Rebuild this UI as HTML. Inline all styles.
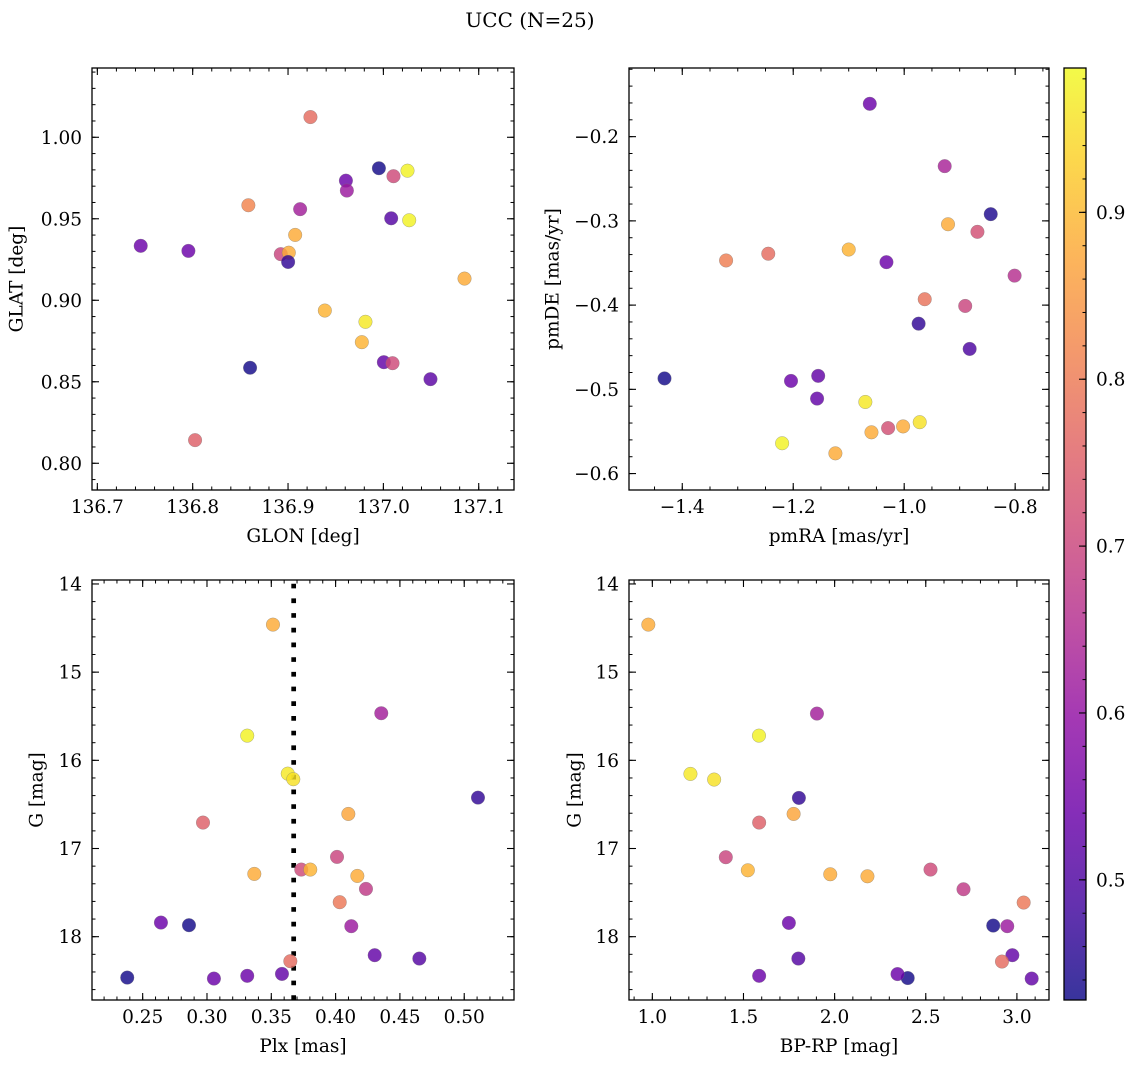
<!DOCTYPE html>
<html><head><meta charset="utf-8">
<style>
html,body{margin:0;padding:0;background:#fff;}
svg{display:block;font-family:"DejaVu Serif","Liberation Serif",serif;}
</style></head>
<body>
<svg id="fig" width="1136" height="1068" viewBox="0 0 1136 1068" xmlns="http://www.w3.org/2000/svg">
<defs>
<linearGradient id="plasmaGrad" x1="0" y1="1" x2="0" y2="0"></linearGradient>
</defs>
<text x="530" y="27" font-size="20" text-anchor="middle">UCC (N=25)</text>
</svg>
<script>
// ---- data: panel 1 (GLON/GLAT)
const glon = [136.9235,136.9953,137.0253,137.0106,136.9607,136.9617,136.8584,136.9127,137.0082,137.0271,136.7455,136.7955,136.9075,136.8924,136.9008,136.9001,137.0851,136.9386,136.9812,136.9774,137.0005,137.0096,136.8602,137.0494,136.8025];
const glat = [1.0124,0.9810,0.9795,0.9761,0.9734,0.9673,0.9583,0.9559,0.9503,0.9491,0.9334,0.9303,0.9401,0.9283,0.9292,0.9235,0.9133,0.8937,0.8868,0.8743,0.8620,0.8614,0.8586,0.8516,0.8142];
const cPos = [0.774,0.433,0.976,0.710,0.540,0.614,0.816,0.625,0.508,0.976,0.540,0.540,0.880,0.699,0.880,0.464,0.880,0.891,0.965,0.891,0.529,0.710,0.433,0.518,0.752];
// ---- data: panel 2 (pmRA/pmDE)
const pmra = [-1.062,-0.927,-0.844,-0.921,-0.868,-1.100,-1.245,-1.321,-1.032,-0.801,-0.963,-0.890,-0.974,-0.882,-1.432,-1.155,-1.204,-1.157,-1.070,-0.972,-1.002,-1.029,-1.059,-1.220,-1.124];
const pmde = [-0.161,-0.235,-0.292,-0.304,-0.313,-0.334,-0.339,-0.347,-0.349,-0.365,-0.393,-0.401,-0.422,-0.452,-0.487,-0.484,-0.490,-0.511,-0.515,-0.539,-0.544,-0.546,-0.551,-0.564,-0.576];
const cPm = [0.540,0.635,0.444,0.880,0.721,0.891,0.774,0.806,0.540,0.657,0.785,0.699,0.464,0.497,0.433,0.529,0.540,0.529,0.965,0.955,0.880,0.721,0.880,0.976,0.880];
// ---- data: panel 3 (Plx/G)
const plx = [0.3513,0.4355,0.3313,0.3628,0.3671,0.5107,0.4099,0.2969,0.4011,0.3733,0.3803,0.3368,0.4169,0.4236,0.4032,0.2642,0.2860,0.4122,0.4304,0.4651,0.3648,0.2380,0.3054,0.3313,0.3583];
const gPlx = [14.461,15.466,15.720,16.151,16.214,16.423,16.608,16.706,17.095,17.239,17.239,17.288,17.311,17.458,17.609,17.840,17.870,17.881,18.210,18.248,18.278,18.464,18.475,18.444,18.422];
const cPlx = [0.880,0.625,0.976,0.965,0.955,0.464,0.870,0.752,0.699,0.710,0.891,0.880,0.880,0.678,0.795,0.540,0.433,0.614,0.529,0.508,0.774,0.433,0.540,0.540,0.529];
const plxRef = [0.3674];
// ---- data: panel 4 (BP-RP/G)
const bprp = [0.978,1.903,1.585,1.209,1.339,1.804,1.775,1.586,1.403,1.524,1.976,2.180,2.526,2.707,3.037,1.749,2.870,2.947,2.975,1.801,2.918,2.401,1.586,2.345,3.081];
const gCmd = [14.461,15.470,15.720,16.154,16.218,16.426,16.608,16.706,17.099,17.247,17.292,17.315,17.239,17.462,17.613,17.844,17.874,17.881,18.210,18.248,18.282,18.469,18.444,18.424,18.475];
const cCmd = [0.880,0.625,0.976,0.965,0.955,0.464,0.870,0.752,0.699,0.891,0.880,0.880,0.710,0.678,0.795,0.540,0.433,0.614,0.529,0.508,0.774,0.433,0.540,0.540,0.529];
// ---- tick labels
const glonTicks = [136.7,136.8,136.9,137.0,137.1];
const glatTicks = [0.80,0.85,0.90,0.95,1.00];
const pmraTicks = [-1.4,-1.2,-1.0,-0.8];
const pmdeTicks = [-0.6,-0.5,-0.4,-0.3,-0.2];
const plxTicks = [0.25,0.30,0.35,0.40,0.45,0.50];
const gTicks = [14,15,16,17,18];
const bprpTicks = [1.0,1.5,2.0,2.5,3.0];
const cbarTicks = [0.5,0.6,0.7,0.8,0.9];
const cRange = [0.428,0.9865];

const NS="http://www.w3.org/2000/svg";
const svg=document.getElementById('fig');
const FS=18.5;
const plasma=['#0d0887','#41049d','#6a00a8','#8f0da4','#b12a90','#cc4778','#e16462','#f2844b','#fca636','#fcce25','#f0f921'];
function hex(h){return [parseInt(h.substr(1,2),16),parseInt(h.substr(3,2),16),parseInt(h.substr(5,2),16)];}
function cmap(v){
  let t=(v-cRange[0])/(cRange[1]-cRange[0]); t=Math.max(0,Math.min(1,t));
  const f=t*10, i=Math.min(9,Math.floor(f)), r=f-i;
  const a=hex(plasma[i]), b=hex(plasma[i+1]);
  return 'rgb('+a.map((x,k)=>Math.round(x+(b[k]-x)*r)).join(',')+')';
}
function el(tag,attrs,parent){const e=document.createElementNS(NS,tag);for(const k in attrs)e.setAttribute(k,attrs[k]);(parent||svg).appendChild(e);return e;}
function fmt(v,d){return (v<0?'\u2212':'')+Math.abs(v).toFixed(d);}

const panels=[
 {name:'position',x0:92,y0:68,w:422,h:422,xd:[136.6944,137.137],yd:[1.0425,0.7836],xs:glon,ys:glat,cs:cPos,xt:glonTicks,yt:glatTicks,xm:0.02,ym:0.01,xdec:1,ydec:2,xl:'GLON [deg]',yl:'GLAT [deg]',ylx:17},
 {name:'proper-motion',x0:629,y0:68,w:420,h:422,xd:[-1.496,-0.739],yd:[-0.1185,-0.6195],xs:pmra,ys:pmde,cs:cPm,xt:pmraTicks,yt:pmdeTicks,xm:0.05,ym:0.02,xdec:1,ydec:1,xl:'pmRA [mas/yr]',yl:'pmDE [mas/yr]',ylx:553},
 {name:'parallax-mag',x0:92,y0:580,w:422,h:420,xd:[0.2106,0.5387],yd:[13.955,18.718],xs:plx,ys:gPlx,cs:cPlx,xt:plxTicks,yt:gTicks,xm:0.01,ym:0.2,xdec:2,ydec:0,xl:'Plx [mas]',yl:'G [mag]',ylx:37,vline:plxRef},
 {name:'cmd',x0:629,y0:580,w:420,h:420,xd:[0.872,3.176],yd:[13.955,18.718],xs:bprp,ys:gCmd,cs:cCmd,xt:bprpTicks,yt:gTicks,xm:0.1,ym:0.2,xdec:1,ydec:0,xl:'BP-RP [mag]',yl:'G [mag]',ylx:575}
];

panels.forEach(p=>{
  const g=el('g',{});
  
  
  const X=v=>p.x0+(v-p.xd[0])/(p.xd[1]-p.xd[0])*p.w;
  const Y=v=>p.y0+(v-p.yd[0])/(p.yd[1]-p.yd[0])*p.h;
  const xmin=Math.min(...p.xd), xmax=Math.max(...p.xd), ymin=Math.min(...p.yd), ymax=Math.max(...p.yd);
  for(let v=Math.ceil(xmin/p.xm)*p.xm; v<=xmax; v+=p.xm){
    const x=X(v);
    el('line',{x1:x,x2:x,y1:p.y0+p.h,y2:p.y0+p.h-3.5,stroke:'#000','stroke-width':1},g);
    el('line',{x1:x,x2:x,y1:p.y0,y2:p.y0+3.5,stroke:'#000','stroke-width':1},g);
  }
  for(let v=Math.ceil(ymin/p.ym)*p.ym; v<=ymax; v+=p.ym){
    const y=Y(v);
    el('line',{x1:p.x0,x2:p.x0+3.5,y1:y,y2:y,stroke:'#000','stroke-width':1},g);
    el('line',{x1:p.x0+p.w,x2:p.x0+p.w-3.5,y1:y,y2:y,stroke:'#000','stroke-width':1},g);
  }
  p.xt.forEach(v=>{
    const x=X(v);
    el('line',{x1:x,x2:x,y1:p.y0+p.h,y2:p.y0+p.h-7,stroke:'#000','stroke-width':1.1},g);
    el('line',{x1:x,x2:x,y1:p.y0,y2:p.y0+7,stroke:'#000','stroke-width':1.1},g);
    const t=el('text',{x:x,y:p.y0+p.h+23,'font-size':FS,'text-anchor':'middle'},g);
    t.textContent=fmt(v,p.xdec);
    
    
  });
  p.yt.forEach(v=>{
    const y=Y(v);
    el('line',{x1:p.x0,x2:p.x0+7,y1:y,y2:y,stroke:'#000','stroke-width':1.1},g);
    el('line',{x1:p.x0+p.w,x2:p.x0+p.w-7,y1:y,y2:y,stroke:'#000','stroke-width':1.1},g);
    const t=el('text',{x:p.x0-10,y:y+6.5,'font-size':FS,'text-anchor':'end'},g);
    t.textContent=fmt(v,p.ydec);
    
    
  });
  if(p.vline){
    p.vline.forEach(v=>{
      const l=el('line',{x1:X(v),x2:X(v),y1:p.y0+p.h,y2:p.y0,stroke:'#000','stroke-width':4.7,'stroke-dasharray':'4.7 10'},g);
      
      
    });
  }
  p.xs.forEach((xv,i)=>{
    const c=el('circle',{cx:X(xv),cy:Y(p.ys[i]),r:6.8,fill:cmap(p.cs[i]),'fill-opacity':0.82,stroke:'#777','stroke-opacity':0.6,'stroke-width':0.5},g);
    
    
  });
  const fr=el('rect',{x:p.x0,y:p.y0,width:p.w,height:p.h,fill:'none',stroke:'#000','stroke-width':1.3},g);
  
  
  const xl=el('text',{x:p.x0+p.w/2,y:p.y0+p.h+52,'font-size':FS,'text-anchor':'middle'},g);
  xl.textContent=p.xl;
  
  
  const cy=p.y0+p.h/2;
  const yl=el('text',{x:p.ylx,y:cy,'font-size':FS,'text-anchor':'middle','dominant-baseline':'central',transform:'rotate(-90 '+p.ylx+' '+cy+')'},g);
  yl.textContent=p.yl;
  
  
});

// colorbar
const grad=document.getElementById('plasmaGrad');
plasma.forEach((c,i)=>{el('stop',{offset:(i*10)+'%','stop-color':c,'stop-opacity':0.82},grad);});
const cb={x:1064,y:68,w:22,h:932};
const cg=el('g',{});


el('rect',{x:cb.x,y:cb.y,width:cb.w,height:cb.h,fill:'url(#plasmaGrad)'},cg);
const CY=v=>cb.y+(cRange[1]-v)/(cRange[1]-cRange[0])*cb.h;
for(let v=Math.ceil(cRange[0]/0.02)*0.02; v<=cRange[1]; v+=0.02){
  el('line',{x1:cb.x+cb.w,x2:cb.x+cb.w-3.5,y1:CY(v),y2:CY(v),stroke:'#000','stroke-width':1},cg);
}
cbarTicks.forEach(v=>{
  el('line',{x1:cb.x+cb.w,x2:cb.x+cb.w-7,y1:CY(v),y2:CY(v),stroke:'#000','stroke-width':1.1},cg);
  const t=el('text',{x:cb.x+cb.w+10,y:CY(v)+6.5,'font-size':FS},cg);
  t.textContent=v.toFixed(1);
  
  
});
el('rect',{x:cb.x,y:cb.y,width:cb.w,height:cb.h,fill:'none',stroke:'#000','stroke-width':1.3},cg);
</script>
</body></html>
